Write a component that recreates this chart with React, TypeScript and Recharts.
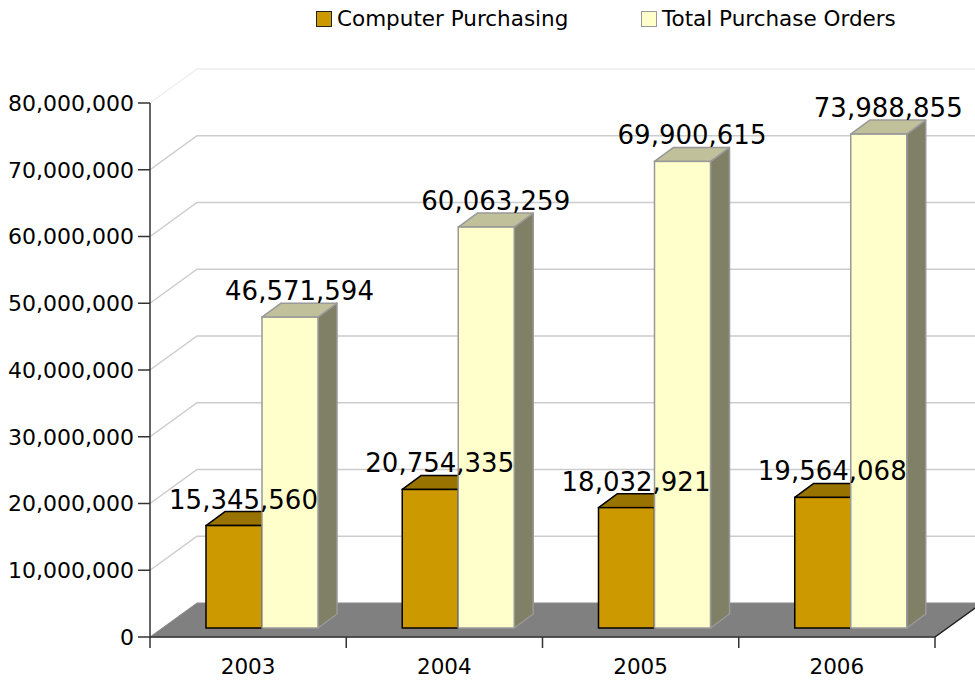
import React from 'react';
import { BarChart, Bar, XAxis, YAxis, CartesianGrid, LabelList } from 'recharts';

const categories = ['2003', '2004', '2005', '2006'];
const computerPurchasing = [15345560, 20754335, 18032921, 19564068];
const totalPurchaseOrders = [46571594, 60063259, 69900615, 73988855];
const yTicks = [0, 10000000, 20000000, 30000000, 40000000, 50000000, 60000000, 70000000, 80000000];
const seriesNames = ['Computer Purchasing', 'Total Purchase Orders'];

const data = categories.map((c, i) => ({
  year: c,
  cp: computerPurchasing[i],
  tpo: totalPurchaseOrders[i],
}));

const W = 975;
const H = 681;
const XAXIS_H = 44;
const MARGIN = { top: 103, right: 40, bottom: 0, left: 0 };
const PLOT_LEFT = 150;
const PLOT_RIGHT = W - MARGIN.right;
const PLOT_BOTTOM = H - XAXIS_H;
const WALL_DX = 47;
const WALL_DY = 34;
const BAR_SHIFT_X = 14;
const BAR_SHIFT_Y = -9;
const BAR_DX = 19;
const BAR_DY = 14;
const FONT = '"DejaVu Sans", Verdana, sans-serif';

const fmt = (v: number) => v.toLocaleString('en-US');

const GridLine = (props: any) => {
  const { x1, y1, x2, index } = props;
  const y = y1;
  if (Math.abs(y - PLOT_BOTTOM) < 1) {
    return (
      <g key={`g-${index}`}>
        <polygon
          points={`${x1},${y} ${x2},${y} ${x2 + WALL_DX},${y - WALL_DY} ${x1 + WALL_DX},${y - WALL_DY}`}
          fill="#808080"
          stroke="#8a8a8a"
          strokeWidth={1}
        />
        <line x1={x2} y1={y} x2={x2 + WALL_DX} y2={y - WALL_DY} stroke="#222" strokeWidth={1.5} />
      </g>
    );
  }
  const top = Math.abs(y - MARGIN.top) < 1;
  return (
    <path
      key={`g-${index}`}
      d={`M${x1},${y} L${x1 + WALL_DX},${y - WALL_DY} L${x2 + WALL_DX},${y - WALL_DY}`}
      fill="none"
      stroke={top ? '#eeeeee' : '#cccccc'}
      strokeWidth={1.5}
    />
  );
};

const make3D = (front: string, topC: string, side: string, stroke: string) => (props: any) => {
  const { x, y, width, height } = props;
  if (width == null || height == null) return null;
  const X = x + BAR_SHIFT_X;
  const Y = y + BAR_SHIFT_Y;
  return (
    <g>
      <polygon
        points={`${X + width},${Y} ${X + width + BAR_DX},${Y - BAR_DY} ${X + width + BAR_DX},${Y + height - BAR_DY} ${X + width},${Y + height}`}
        fill={side}
        stroke={stroke}
        strokeWidth={1.5}
        strokeLinejoin="round"
      />
      <polygon
        points={`${X},${Y} ${X + BAR_DX},${Y - BAR_DY} ${X + width + BAR_DX},${Y - BAR_DY} ${X + width},${Y}`}
        fill={topC}
        stroke={stroke}
        strokeWidth={1.5}
        strokeLinejoin="round"
      />
      <rect x={X} y={Y} width={width} height={height} fill={front} stroke={stroke} strokeWidth={1.5} />
    </g>
  );
};

const OrangeBar = make3D('#CC9900', '#997300', '#997300', '#000000');
const YellowBar = make3D('#FFFFCC', '#C0C09A', '#808066', '#999999');

const ValueLabel = (props: any) => {
  const { x, y, width, value } = props;
  return (
    <text
      x={x + width / 2 + BAR_SHIFT_X + BAR_DX / 2}
      y={y + BAR_SHIFT_Y - 17}
      textAnchor="middle"
      fontSize={26}
      fontFamily={FONT}
      fill="#000"
    >
      {fmt(value)}
    </text>
  );
};

const XTick = (props: any) => {
  const { x, payload, index } = props;
  const bw = (PLOT_RIGHT - PLOT_LEFT) / categories.length;
  return (
    <g>
      <line x1={x - bw / 2} y1={PLOT_BOTTOM} x2={x - bw / 2} y2={PLOT_BOTTOM + 11} stroke="#333" strokeWidth={1.5} />
      {index === categories.length - 1 && (
        <line x1={x + bw / 2} y1={PLOT_BOTTOM} x2={x + bw / 2} y2={PLOT_BOTTOM + 11} stroke="#333" strokeWidth={1.5} />
      )}
      <text x={x} y={PLOT_BOTTOM + 37} textAnchor="middle" fontSize={21.5} fontFamily={FONT} fill="#000">
        {payload.value}
      </text>
    </g>
  );
};

const Legend = () => (
  <div style={{ position: 'absolute', left: 0, top: 0, width: W, height: 40, fontFamily: FONT, fontSize: 21.5, color: '#000' }}>
    <div style={{ position: 'absolute', left: 316, top: 11, width: 16, height: 16, boxSizing: 'border-box', background: '#CC9900', border: '1.5px solid #222' }} />
    <span style={{ position: 'absolute', left: 337, top: 8, lineHeight: '22px', whiteSpace: 'nowrap' }}>{seriesNames[0]}</span>
    <div style={{ position: 'absolute', left: 641, top: 11, width: 16, height: 16, boxSizing: 'border-box', background: '#FFFFCC', border: '1.5px solid #999' }} />
    <span style={{ position: 'absolute', left: 662, top: 8, lineHeight: '22px', whiteSpace: 'nowrap' }}>{seriesNames[1]}</span>
  </div>
);

export default function App() {
  return (
    <div style={{ position: 'absolute', left: 0, top: 0, width: W, height: H, background: '#fff', overflow: 'hidden' }}>
      <BarChart width={W} height={H} data={data} margin={MARGIN} barSize={56} barGap={0}>
        <CartesianGrid horizontal={GridLine as any} vertical={false} />
        <XAxis dataKey="year" height={XAXIS_H} axisLine={{ stroke: '#333', strokeWidth: 1.5 }} tickLine={false} tick={<XTick />} interval={0} />
        <YAxis
          width={150}
          domain={[0, 80000000]}
          ticks={yTicks}
          tickFormatter={fmt}
          axisLine={{ stroke: '#333', strokeWidth: 1.5 }}
          tickLine={{ stroke: '#333', strokeWidth: 1.5 }}
          tickSize={12}
          tickMargin={4}
          tick={{ fontSize: 22, fontFamily: FONT, fill: '#000' }}
        />
        <Bar dataKey="cp" name={seriesNames[0]} shape={OrangeBar} isAnimationActive={false}>
          <LabelList dataKey="cp" content={ValueLabel} />
        </Bar>
        <Bar dataKey="tpo" name={seriesNames[1]} shape={YellowBar} isAnimationActive={false}>
          <LabelList dataKey="tpo" content={ValueLabel} />
        </Bar>
      </BarChart>
      <Legend />
    </div>
  );
}
